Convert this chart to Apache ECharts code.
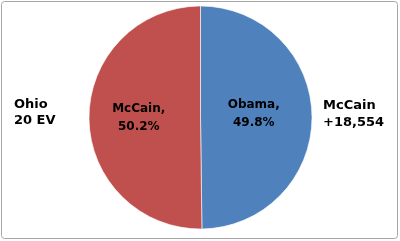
<!DOCTYPE html>
<html><head><meta charset="utf-8">
<script src="https://cdn.jsdelivr.net/npm/echarts@6/dist/echarts.min.js"></script>
<style>html,body{margin:0;padding:0;background:#fff}#c{width:400px;height:241px}</style>
</head><body><div id="c"></div>
<script>
const candidates = ['Obama', 'McCain'];
const shares = [49.8, 50.2];
const colors = ['#4F81BD', '#C0504D'];
const leftNote = ['Ohio', '20 EV'];
const rightNote = ['McCain', '+18,554'];

const chart = echarts.init(document.getElementById('c'), null, {renderer: 'canvas'});
const font = '"DejaVu Sans", Verdana, sans-serif';
const labelOffsets = [[-5.5, -3.5], [-3, 0]];
chart.setOption({
  animation: false,
  backgroundColor: '#fff',
  graphic: [
    {type: 'rect', shape: {x: 1.5, y: 1.5, width: 396, height: 237, r: 3}, style: {fill: 'none', stroke: '#a6a6a6', lineWidth: 1}, silent: true},
    {type: 'text', left: 14, top: 96.5, style: {text: leftNote.join('\n'), font: 'bold 13px ' + font, fill: '#000', lineHeight: 16}},
    {type: 'text', left: 323, top: 97, style: {text: rightNote.join('\n'), font: 'bold 13px ' + font, fill: '#000', lineHeight: 17}}
  ],
  series: [{
    type: 'pie',
    center: [200.5, 117.5],
    radius: [0, 111.5],
    startAngle: 90,
    clockwise: true,
    data: candidates.map((n, i) => ({name: n, value: shares[i], itemStyle: {color: colors[i]}, label: {offset: labelOffsets[i]}})),
    itemStyle: {borderColor: '#fff', borderWidth: 0.6},
    label: {
      show: true, position: 'inside',
      formatter: p => p.name + ',\n' + p.value.toFixed(1) + '%',
      fontFamily: font, fontWeight: 'bold', fontSize: 12, color: '#000', lineHeight: 18, align: 'center'
    },
    labelLine: {show: false},
    emphasis: {disabled: true}
  }]
});
</script></body></html>
